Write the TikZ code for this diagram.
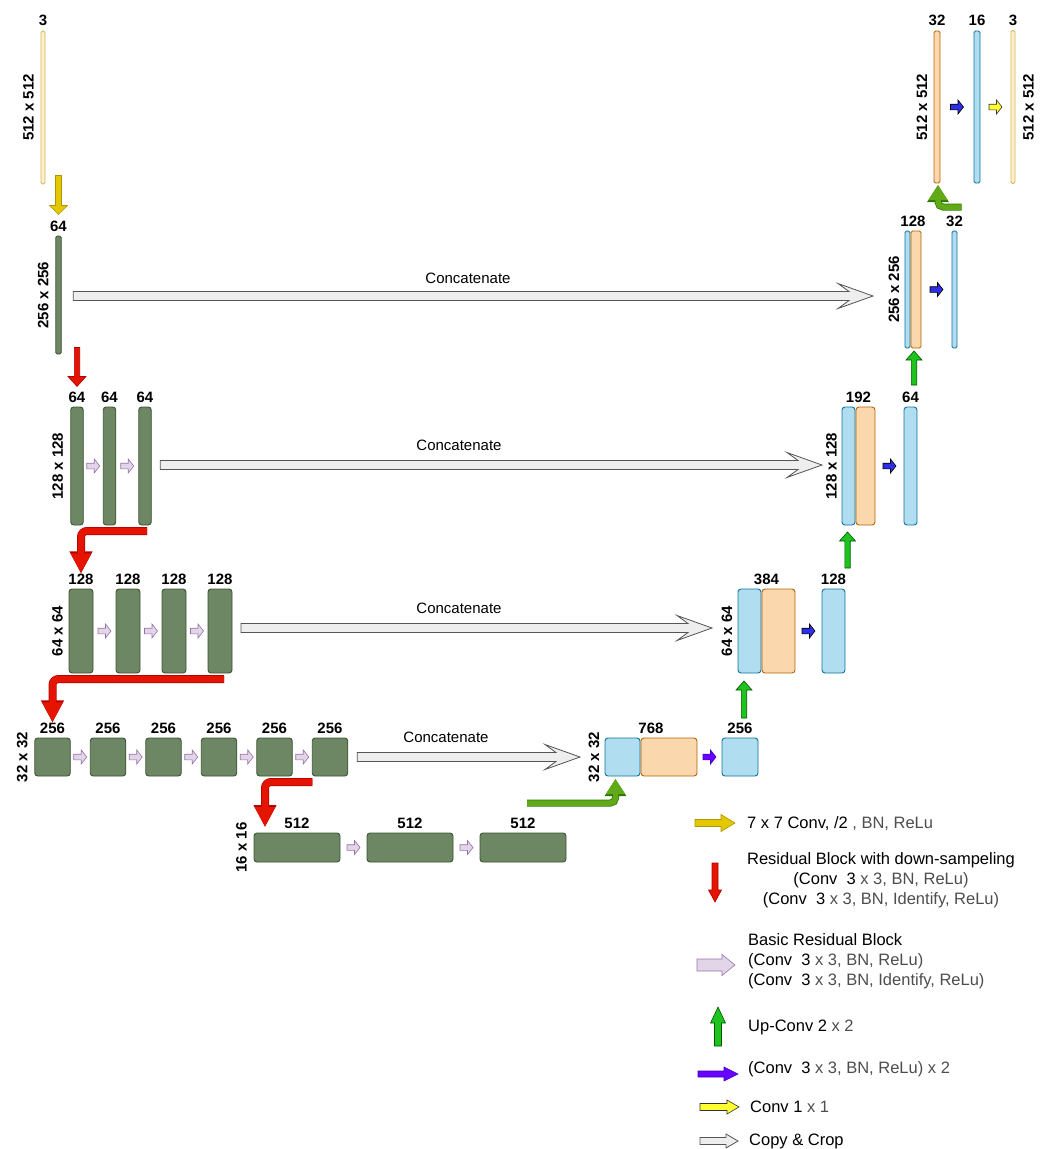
\documentclass[tikz,border=0pt]{standalone}
\usepackage{fontspec}
\setmainfont{Liberation Sans}
\setsansfont{Liberation Sans}
\usetikzlibrary{positioning, arrows.meta, calc}

\definecolor{encfill}{HTML}{6D8764}
\definecolor{encline}{HTML}{3A5431}
\definecolor{decfill}{HTML}{B1DDF0}
\definecolor{decline}{HTML}{10739E}
\definecolor{catfill}{HTML}{FAD7AC}
\definecolor{catline}{HTML}{B46504}
\definecolor{inpfill}{HTML}{FFF2CC}
\definecolor{inpline}{HTML}{D6B656}
\definecolor{resfill}{HTML}{E1D5E7}
\definecolor{resline}{HTML}{9673A6}
\definecolor{copyfill}{HTML}{EEEEEE}
\definecolor{copyline}{HTML}{555555}
\definecolor{downfill}{HTML}{E51400}
\definecolor{downline}{HTML}{B20000}
\definecolor{upfill}{HTML}{1EC31E}
\definecolor{upline}{HTML}{005700}
\definecolor{bendfill}{HTML}{60A917}
\definecolor{bendline}{HTML}{2D7600}
\definecolor{stemfill}{HTML}{E3C800}
\definecolor{stemline}{HTML}{B09500}
\definecolor{convfill}{HTML}{2F2FE6}
\definecolor{viofill}{HTML}{6A00FF}
\definecolor{violine}{HTML}{3700CC}
\definecolor{outfill}{HTML}{FFFF33}
\definecolor{txtgray}{HTML}{4D4D4D}

% block arrows: style, from, to, shaft half width, head half width, head length (, indent)
\newcommand{\rarrow}[7]{%
  \path[#1] let \p1=#2, \p2=#3 in
    (\x1,\y1-#4) -- (\x2-#6,\y1-#4) -- (\x2-#6-#7,\y1-#5) -- (\x2,\y1)
    -- (\x2-#6-#7,\y1+#5) -- (\x2-#6,\y1+#4) -- (\x1,\y1+#4) -- cycle;}
\newcommand{\darrow}[6]{%
  \path[#1] let \p1=#2, \p2=#3 in
    (\x1-#4,\y1) -- (\x1-#4,\y2+#6) -- (\x1-#5,\y2+#6) -- (\x1,\y2)
    -- (\x1+#5,\y2+#6) -- (\x1+#4,\y2+#6) -- (\x1+#4,\y1) -- cycle;}
\newcommand{\uarrow}[6]{%
  \path[#1] let \p1=#2, \p2=#3 in
    (\x1-#4,\y1) -- (\x1-#4,\y2-#6) -- (\x1-#5,\y2-#6) -- (\x1,\y2)
    -- (\x1+#5,\y2-#6) -- (\x1+#4,\y2-#6) -- (\x1+#4,\y1) -- cycle;}
% small arrow centred between two blocks
\newcommand{\midarrow}[3]{%
  \rarrow{#1}{($(#2.east)!.5!(#3.west)+(-6.5,0)$)}{($(#2.east)!.5!(#3.west)+(6.5,0)$)}{2.8pt}{7pt}{5.5pt}{0pt}}

\begin{document}
\begin{tikzpicture}[
    x=1pt, y=-1pt,
    font=\fontsize{15}{18}\selectfont,
    block/.style={rectangle, line width=0.9pt, rounded corners=3pt, inner sep=0pt, outer sep=0pt},
    enc/.style={block, draw=encline, fill=encfill},
    dec/.style={block, draw=decline, fill=decfill},
    cat/.style={block, draw=catline, fill=catfill},
    inp/.style={block, draw=inpline, fill=inpfill, rounded corners=1.5pt},
    thin/.style={rounded corners=1.5pt},
    num/.style={font=\fontsize{15}{18}\selectfont\bfseries, inner sep=0pt},
    dim/.style={font=\fontsize{15}{18}\selectfont\bfseries, inner sep=0pt, rotate=90},
    lbl/.style={inner sep=0pt},
    legend/.style={inner sep=0pt, anchor=west, align=left, font=\fontsize{16.5}{20}\selectfont},
    copyarr/.style={draw=copyline, fill=copyfill, line width=0.8pt},
    resarr/.style={draw=resline, fill=resfill, line width=0.6pt},
    convarr/.style={draw=black, fill=convfill, line width=0.6pt},
    vioarr/.style={draw=violine, fill=viofill, line width=0.6pt},
    outarr/.style={draw=black!80, fill=outfill, line width=0.6pt},
    stemarr/.style={draw=stemline, fill=stemfill, line width=0.6pt},
    downarr/.style={draw=downline, fill=downfill, line width=0.6pt},
    uparr/.style={draw=upline, fill=upfill, line width=0.6pt},
    downbend/.style={draw=downfill, line width=6.5pt, rounded corners=6pt, -{Triangle[width=19pt,length=20pt]},
      preaction={draw=downline, line width=8pt, -{Triangle[width=21.5pt,length=22pt]}}},
    upbend/.style={draw=bendfill, line width=5.5pt, rounded corners=5pt, -{Triangle[width=18pt,length=15pt]},
      preaction={draw=bendline, line width=7pt, -{Triangle[width=20.5pt,length=17pt]}}}
  ]
  \useasboundingbox (0,0) rectangle (1043,1149);

  % Encoder
  \node[inp, minimum width=4pt, minimum height=153pt] (e0) at (43,107.5) {};
  \node[enc, thin, minimum width=5.5pt, minimum height=118pt] (e1) at (58.5,295) {};

  \node[enc, minimum width=12.5pt, minimum height=118pt] (e2a) at (77,466) {};
  \node[enc, minimum width=12.5pt, minimum height=118pt, right=20pt of e2a] (e2b) {};
  \node[enc, minimum width=12.5pt, minimum height=118pt, right=23pt of e2b] (e2c) {};

  \node[enc, minimum width=24pt, minimum height=84pt] (e3a) at (81,631) {};
  \node[enc, minimum width=24pt, minimum height=84pt, right=23pt of e3a] (e3b) {};
  \node[enc, minimum width=24pt, minimum height=84pt, right=22pt of e3b] (e3c) {};
  \node[enc, minimum width=24pt, minimum height=84pt, right=22pt of e3c] (e3d) {};

  \node[enc, minimum width=35.5pt, minimum height=38pt] (e4a) at (52.5,757) {};
  \node[enc, minimum width=35.5pt, minimum height=38pt, right=20pt of e4a] (e4b) {};
  \node[enc, minimum width=35.5pt, minimum height=38pt, right=20pt of e4b] (e4c) {};
  \node[enc, minimum width=35.5pt, minimum height=38pt, right=20pt of e4c] (e4d) {};
  \node[enc, minimum width=35.5pt, minimum height=38pt, right=20pt of e4d] (e4e) {};
  \node[enc, minimum width=35.5pt, minimum height=38pt, right=20pt of e4e] (e4f) {};

  \node[enc, minimum width=86pt, minimum height=29pt] (e5a) at (297,847.5) {};
  \node[enc, minimum width=86pt, minimum height=29pt, right=27pt of e5a] (e5b) {};
  \node[enc, minimum width=86pt, minimum height=29pt, right=27pt of e5b] (e5c) {};

  % Decoder
  \node[dec, minimum width=35pt, minimum height=38pt] (d4a) at (622.5,757) {};
  \node[cat, minimum width=56pt, minimum height=38pt, right=1pt of d4a] (d4b) {};
  \node[dec, minimum width=36pt, minimum height=38pt, right=25pt of d4b] (d4c) {};

  \node[dec, minimum width=23pt, minimum height=84pt] (d3a) at (749.5,631) {};
  \node[cat, minimum width=33pt, minimum height=84pt, right=1pt of d3a] (d3b) {};
  \node[dec, minimum width=23pt, minimum height=84pt, right=27pt of d3b] (d3c) {};

  \node[dec, minimum width=13pt, minimum height=118pt] (d2a) at (848.5,466) {};
  \node[cat, minimum width=19pt, minimum height=118pt, right=1pt of d2a] (d2b) {};
  \node[dec, minimum width=13pt, minimum height=118pt, right=29pt of d2b] (d2c) {};

  \node[dec, thin, minimum width=5pt, minimum height=117pt] (d1a) at (907.5,289.5) {};
  \node[cat, thin, minimum width=10pt, minimum height=117pt, right=1pt of d1a] (d1b) {};
  \node[dec, thin, minimum width=5pt, minimum height=117pt, right=31pt of d1b] (d1c) {};

  \node[cat, thin, minimum width=6pt, minimum height=152pt] (d0a) at (937,107) {};
  \node[dec, thin, minimum width=6pt, minimum height=152pt, right=34pt of d0a] (d0b) {};
  \node[inp, minimum width=4pt, minimum height=153pt, right=31pt of d0b] (d0c) {};

  % Channel numbers
  \node[num, above=5pt of e0] (n0) {3};
  \node[num, above=4.5pt of e1] (n1) {64};
  \node[num, above=4.5pt of e2a] (n2a) {64};
  \node[num, above=4.5pt of e2b] (n2b) {64};
  \node[num, above=4.5pt of e2c] (n2c) {64};
  \node[num, above=4.5pt of e3a] (n3a) {128};
  \node[num, above=4.5pt of e3b] (n3b) {128};
  \node[num, above=4.5pt of e3c] (n3c) {128};
  \node[num, above=4.5pt of e3d] (n3d) {128};
  \node[num, above=4.5pt of e4a] (n4a) {256};
  \node[num, above=4.5pt of e4b] (n4b) {256};
  \node[num, above=4.5pt of e4c] (n4c) {256};
  \node[num, above=4.5pt of e4d] (n4d) {256};
  \node[num, above=4.5pt of e4e] (n4e) {256};
  \node[num, above=4.5pt of e4f] (n4f) {256};
  \node[num, above=4pt of e5a] (n5a) {512};
  \node[num, above=4pt of e5b] (n5b) {512};
  \node[num, above=4pt of e5c] (n5c) {512};

  \node[num, anchor=south, yshift=4.5pt] (m4) at ($(d4a.north west)!.5!(d4b.north east)$) {768};
  \node[num, above=4.5pt of d4c] (m4c) {256};
  \node[num, anchor=south, yshift=4.5pt] (m3) at ($(d3a.north west)!.5!(d3b.north east)$) {384};
  \node[num, above=4.5pt of d3c] (m3c) {128};
  \node[num, anchor=south, yshift=4.5pt] (m2) at ($(d2a.north west)!.5!(d2b.north east)$) {192};
  \node[num, above=4.5pt of d2c] (m2c) {64};
  \node[num, anchor=south, yshift=4.5pt] (m1) at ($(d1a.north west)!.5!(d1b.north east)$) {128};
  \node[num, above=4.5pt of d1c] (m1c) {32};
  \node[num, above=5pt of d0a] (m0a) {32};
  \node[num, above=5pt of d0b] (m0b) {16};
  \node[num, above=5pt of d0c] (m0c) {3};

  % Sizes
  \node[dim, anchor=south] (s0) at ($(e0.west)+(-7,0)$) {512 x 512};
  \node[dim, anchor=south] (s1) at ($(e1.west)+(-7,0)$) {256 x 256};
  \node[dim, anchor=south] (s2) at ($(e2a.west)+(-7.5,0)$) {128 x 128};
  \node[dim, anchor=south] (s3) at ($(e3a.west)+(-6,0)$) {64 x 64};
  \node[dim, anchor=south] (s4) at ($(e4a.west)+(-7,0)$) {32 x 32};
  \node[dim, anchor=south] (s5) at ($(e5a.west)+(-7,0)$) {16 x 16};
  \node[dim, anchor=south] (t4) at ($(d4a.west)+(-5.5,0)$) {32 x 32};
  \node[dim, anchor=south] (t3) at ($(d3a.west)+(-5.5,0)$) {64 x 64};
  \node[dim, anchor=south] (t2) at ($(d2a.west)+(-5,0)$) {128 x 128};
  \node[dim, anchor=south] (t1) at ($(d1a.west)+(-5.5,0)$) {256 x 256};
  \node[dim, anchor=south] (t0) at ($(d0a.west)+(-6.5,0)$) {512 x 512};
  \node[dim, anchor=north] (t0c) at ($(d0c.east)+(8,0)$) {512 x 512};

  % Down path
  \darrow{stemarr}{($(n1.north)+(0,-45)$)}{($(n1.north)+(0,-6)$)}{3pt}{9pt}{9pt}
  \darrow{downarr}{($(n2a.north)+(0,-44)$)}{($(n2a.north)+(0,-5)$)}{2.7pt}{9pt}{10pt}
  \midarrow{resarr}{e2a}{e2b}
  \midarrow{resarr}{e2b}{e2c}
  \midarrow{resarr}{e3a}{e3b}
  \midarrow{resarr}{e3b}{e3c}
  \midarrow{resarr}{e3c}{e3d}
  \midarrow{resarr}{e4a}{e4b}
  \midarrow{resarr}{e4b}{e4c}
  \midarrow{resarr}{e4c}{e4d}
  \midarrow{resarr}{e4d}{e4e}
  \midarrow{resarr}{e4e}{e4f}
  \midarrow{resarr}{e5a}{e5b}
  \midarrow{resarr}{e5b}{e5c}

  \coordinate (r1) at ($(e2c.south)+(2,6)$);
  \coordinate (r2) at ($(e3d.south)+(4,6)$);
  \coordinate (r3) at ($(e4f.south west)+(0,6)$);
  \coordinate (r3e) at ($(e5a.north west)+(11,-6)$);
  \draw[downbend] (r1) -| (n3a.north);
  \draw[downbend] (r2) -| (n4a.north);
  \draw[downbend] (r3) -| (r3e);

  % Skip connections
  \rarrow{copyarr}{($(e1.east)+(12,1)$)}{($(d1a.west)+(-32,0)$)}{4.5pt}{12.5pt}{24pt}{11pt}
  \rarrow{copyarr}{($(e2c.east)+(9,-1)$)}{($(d2a.west)+(-20,0)$)}{4.5pt}{12.5pt}{24pt}{11pt}
  \rarrow{copyarr}{($(e3d.east)+(9,-3)$)}{($(d3a.west)+(-26,0)$)}{4.5pt}{12.5pt}{24pt}{11pt}
  \rarrow{copyarr}{($(e4f.east)+(9.5,0)$)}{($(d4a.west)+(-25,0)$)}{4.5pt}{12.5pt}{24pt}{11pt}
  \node[lbl] (c1) at (468,278) {Concatenate};
  \node[lbl] (c2) at (459,445) {Concatenate};
  \node[lbl] (c3) at (459,608) {Concatenate};
  \node[lbl] (c4) at (446,737) {Concatenate};

  % Up path
  \coordinate (g1) at ($(e5c.north)+(4,-30)$);
  \coordinate (g1e) at ($(d4a.south)+(-7,3)$);
  \draw[upbend] (g1) -| (g1e);
  \midarrow{vioarr}{d4b}{d4c}
  \uarrow{uparr}{($(d3a.south)+(-5.5,45)$)}{($(d3a.south)+(-5.5,8)$)}{2.7pt}{8pt}{9pt}
  \midarrow{convarr}{d3b}{d3c}
  \uarrow{uparr}{($(d2a.south)+(-1,43)$)}{($(d2a.south)+(-1,7)$)}{2.7pt}{8pt}{9pt}
  \midarrow{convarr}{d2b}{d2c}
  \uarrow{uparr}{($(d1b.south)+(-2,37)$)}{($(d1b.south)+(-2,3)$)}{2.7pt}{8pt}{9pt}
  \midarrow{convarr}{d1b}{d1c}
  \coordinate (g2) at ($(d1c.north)+(7,-24)$);
  \coordinate (g2e) at ($(d0a.south)+(1,2)$);
  \draw[upbend] (g2) -| (g2e);
  \midarrow{convarr}{d0a}{d0b}
  \midarrow{outarr}{d0b}{d0c}

  % Legend
  \node[legend] (l1) at (747,824) {7 x 7 Conv, /2 \textcolor{txtgray}{, BN, ReLu}};
  \node[legend, anchor=center, align=center] (l2) at (881,880) {Residual Block with down-sampeling\\(Conv\ \ 3 \textcolor{txtgray}{x 3, BN, ReLu)}\\(Conv\ \ 3 \textcolor{txtgray}{x 3, BN, Identify, ReLu)}};
  \node[legend] (l3) at (748,961) {Basic Residual Block\\(Conv\ \ 3 \textcolor{txtgray}{x 3, BN, ReLu)}\\(Conv\ \ 3 \textcolor{txtgray}{x 3, BN, Identify, ReLu)}};
  \node[legend] (l4) at (748,1027) {Up-Conv 2 \textcolor{txtgray}{x 2}};
  \node[legend] (l5) at (748,1069) {(Conv\ \ 3 \textcolor{txtgray}{x 3, BN, ReLu) x 2}};
  \node[legend] (l6) at (750,1107) {Conv 1 \textcolor{txtgray}{x 1}};
  \node[legend] (l7) at (749,1141) {Copy \& Crop};

  \rarrow{stemarr}{($(l1.west)+(-52,-1)$)}{($(l1.west)+(-12,-1)$)}{3.5pt}{8.5pt}{14pt}{0pt}
  \darrow{downarr}{($(l2.center)+(-166,-17)$)}{($(l2.center)+(-166,22)$)}{3pt}{6.5pt}{12pt}
  \rarrow{resarr}{($(l3.west)+(-51,4)$)}{($(l3.west)+(-13,4)$)}{6pt}{10.5pt}{13pt}{0pt}
  \uarrow{uparr}{($(l4.west)+(-30,19)$)}{($(l4.west)+(-30,-20)$)}{3.5pt}{7.5pt}{16pt}
  \rarrow{vioarr}{($(l5.west)+(-50,5)$)}{($(l5.west)+(-10,5)$)}{3pt}{7pt}{14pt}{0pt}
  \rarrow{outarr}{($(l6.west)+(-50,0)$)}{($(l6.west)+(-11,0)$)}{3.5pt}{7pt}{12pt}{0pt}
  \rarrow{copyarr}{($(l7.west)+(-49,0)$)}{($(l7.west)+(-11,0)$)}{3.5pt}{7pt}{12pt}{0pt}
\end{tikzpicture}
\end{document}
